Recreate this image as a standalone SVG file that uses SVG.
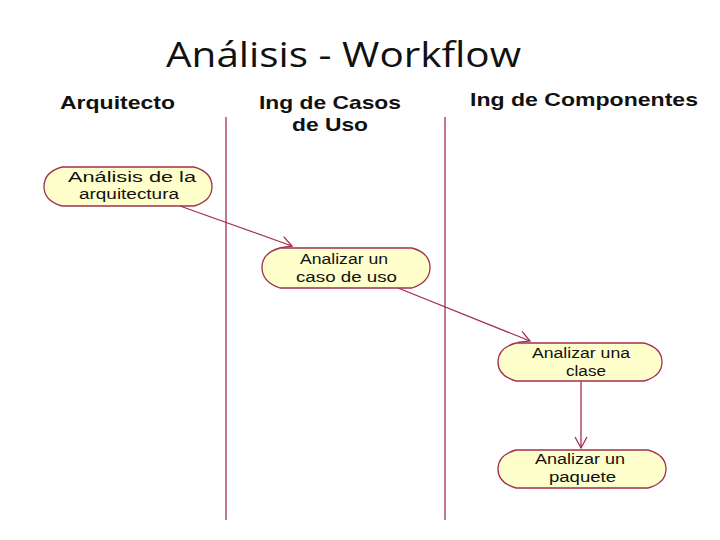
<svg xmlns="http://www.w3.org/2000/svg" width="720" height="540" viewBox="0 0 720 540">
<style>
.title{font-family:"Open Sans","Liberation Sans",sans-serif;font-size:34px;fill:#111}
.hdr{font-family:"Liberation Sans",Arial,sans-serif;font-size:19px;font-weight:bold;fill:#111}
.node path{fill:#FFFFCC;stroke:#A03050;stroke-width:1.3}
.node text{font-family:"Liberation Sans",Arial,sans-serif;font-size:15.5px;fill:#111}
.lane{stroke:#A03050;stroke-width:1.3}
.conn line{stroke:#A03050;stroke-width:1.3;fill:none}
</style>
<defs>
<marker id="open" markerWidth="14" markerHeight="14" refX="12" refY="7" orient="auto" markerUnits="userSpaceOnUse">
<path d="M1,1 L12,7 L1,13" fill="none" stroke="#A03050" stroke-width="1.3"/>
</marker>
</defs>
<rect width="720" height="540" fill="#fff"/>
<text class="title" x="166" y="67" textLength="355" lengthAdjust="spacingAndGlyphs">Análisis - Workflow</text>
<g id="headers">
<text class="hdr" x="60" y="109" textLength="115" lengthAdjust="spacingAndGlyphs">Arquitecto</text>
<text class="hdr" x="259" y="109" textLength="142" lengthAdjust="spacingAndGlyphs">Ing de Casos</text>
<text class="hdr" x="292" y="131" textLength="76" lengthAdjust="spacingAndGlyphs">de Uso</text>
<text class="hdr" x="470" y="106" textLength="228" lengthAdjust="spacingAndGlyphs">Ing de Componentes</text>
</g>
<g id="lanes">
<line class="lane" x1="226" y1="117" x2="226" y2="520"/>
<line class="lane" x1="445" y1="117" x2="445" y2="520"/>
</g>
<g id="connectors" class="conn">
<line x1="180" y1="206" x2="292" y2="246" marker-end="url(#open)"/>
<line x1="398" y1="288" x2="530" y2="341" marker-end="url(#open)"/>
<line x1="581" y1="381" x2="581" y2="448" marker-end="url(#open)"/>
</g>
<g id="n1" class="node">
<path d="M62,167 L194,167 Q212,172 212,186.5 Q212,201 194,206 L62,206 Q44,201 44,186.5 Q44,172 62,167 Z"/>
<text x="68" y="182" textLength="128" lengthAdjust="spacingAndGlyphs">Análisis de la</text>
<text x="79" y="199" textLength="100" lengthAdjust="spacingAndGlyphs">arquitectura</text>
</g>
<g id="n2" class="node">
<path d="M280,248 L412,248 Q430,253 430,267.5 Q430,282 412,288 L280,288 Q262,282 262,267.5 Q262,253 280,248 Z"/>
<text x="300" y="264" textLength="88" lengthAdjust="spacingAndGlyphs">Analizar un</text>
<text x="296" y="282" textLength="101" lengthAdjust="spacingAndGlyphs">caso de uso</text>
</g>
<g id="n3" class="node">
<path d="M516,343 L644,343 Q662,348 662,362 Q662,376 644,381 L516,381 Q498,376 498,362 Q498,348 516,343 Z"/>
<text x="532" y="358" textLength="98" lengthAdjust="spacingAndGlyphs">Analizar una</text>
<text x="566" y="376" textLength="40" lengthAdjust="spacingAndGlyphs">clase</text>
</g>
<g id="n4" class="node">
<path d="M516,450 L648,450 Q666,455 666,469 Q666,483 648,488 L516,488 Q498,483 498,469 Q498,455 516,450 Z"/>
<text x="535" y="464" textLength="90" lengthAdjust="spacingAndGlyphs">Analizar un</text>
<text x="549" y="482" textLength="67" lengthAdjust="spacingAndGlyphs">paquete</text>
</g>
</svg>
